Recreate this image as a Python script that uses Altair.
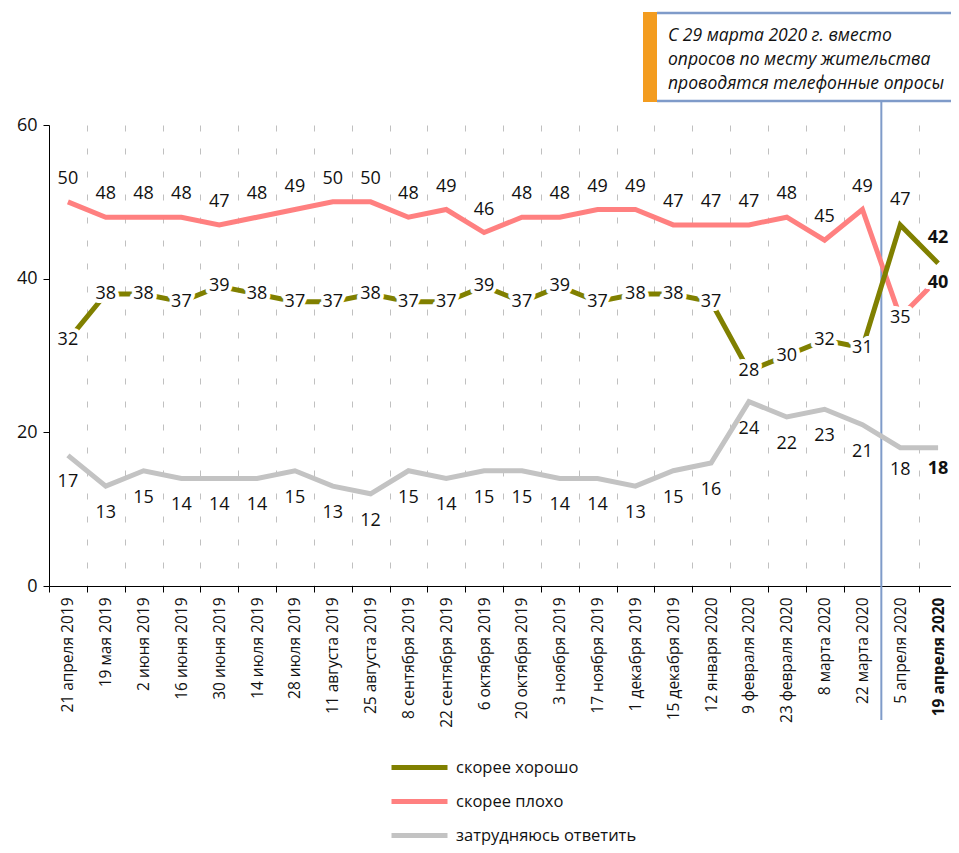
import altair as alt
import pandas as pd

dates = ["21 апреля 2019", "19 мая 2019", "2 июня 2019", "16 июня 2019", "30 июня 2019",
         "14 июля 2019", "28 июля 2019", "11 августа 2019", "25 августа 2019",
         "8 сентября 2019", "22 сентября 2019", "6 октября 2019", "20 октября 2019",
         "3 ноября 2019", "17 ноября 2019", "1 декабря 2019", "15 декабря 2019",
         "12 января 2020", "9 февраля 2020", "23 февраля 2020", "8 марта 2020",
         "22 марта 2020", "5 апреля 2020", "19 апреля 2020"]
good = [32, 38, 38, 37, 39, 38, 37, 37, 38, 37, 37, 39, 37, 39, 37, 38, 38, 37, 28, 30, 32, 31, 47, 42]
bad = [50, 48, 48, 48, 47, 48, 49, 50, 50, 48, 49, 46, 48, 48, 49, 49, 47, 47, 47, 48, 45, 49, 35, 40]
hard = [17, 13, 15, 14, 14, 14, 15, 13, 12, 15, 14, 15, 15, 14, 14, 13, 15, 16, 24, 22, 23, 21, 18, 18]
series_names = ["скорее хорошо", "скорее плохо", "затрудняюсь ответить"]
series_colors = ["#808000", "#ff8080", "#c3c3c3"]
divider_after = "22 марта 2020"
note_lines = ["С 29 марта 2020 г. вместо", "опросов по месту жительства", "проводятся телефонные опросы"]

FONT = "Open Sans"
rows = []
for name, vals in zip(series_names, [good, bad, hard]):
    for i, (d, v) in enumerate(zip(dates, vals)):
        rows.append({"date": d, "series": name, "value": v, "idx": i})
df = pd.DataFrame(rows)
last = len(dates) - 1

def make_x(bp=0.5):
    return alt.X(
        "date:N", sort=dates, bandPosition=bp,
        scale=alt.Scale(type="band", domain=dates, paddingInner=0, paddingOuter=0),
        axis=alt.Axis(
            title=None, tickBand="extent", grid=True, gridColor="#c0c0c0", gridDash=[6, 17],
            gridWidth=1, domainColor="#000", tickColor="#000", tickSize=6, labelAngle=270,
            labelFont=FONT, labelFontSize=15.5, labelColor="#111", labelPadding=5,
            labelFontWeight={"condition": {"test": "datum.value == '19 апреля 2020'", "value": "bold"},
                             "value": "normal"},
        ),
    )

y_enc = alt.Y(
    "value:Q", scale=alt.Scale(domain=[0, 60], nice=False),
    axis=alt.Axis(title=None, values=[0, 20, 40, 60], grid=False, domainColor="#000",
                  tickColor="#000", tickSize=6, labelFont=FONT, labelFontSize=18,
                  labelColor="#111", labelPadding=6),
)

color_enc = alt.Color(
    "series:N", scale=alt.Scale(domain=series_names, range=series_colors),
    legend=alt.Legend(title=None, orient="none", legendX=354, legendY=626,
                      symbolType="M-2,0L2,0", symbolSize=784, symbolStrokeWidth=5,
                      labelFont=FONT, labelFontSize=16.5, labelColor="#111", labelOffset=20,
                      labelLimit=400, rowPadding=7, padding=0),
)

base = alt.Chart(df)

divider = alt.Chart(pd.DataFrame({"date": [divider_after]})).mark_rule(
    color="#7f9bc9", strokeWidth=2
).encode(x=make_x(1), y=alt.value(-24), y2=alt.value(595))

lines = [
    base.transform_filter(alt.datum.series == name).mark_line(strokeWidth=5).encode(
        x=make_x(), y=y_enc, color=color_enc)
    for name in reversed(series_names)
]

def labels(cond, dy, bold=False, halo=False):
    layers = []
    ch = base.transform_filter(cond)
    enc = dict(x=make_x(), y=y_enc, text=alt.Text("value:Q"))
    if halo:
        layers.append(ch.mark_text(font=FONT, fontSize=18, dy=dy, fontWeight="bold" if bold else "normal",
                                   fill="white", stroke="white", strokeWidth=8,
                                   strokeJoin="round").encode(**enc))
    layers.append(ch.mark_text(font=FONT, fontSize=18, dy=dy, fontWeight="bold" if bold else "normal",
                               color="#111").encode(**enc))
    return layers

g, p, h = series_names
label_layers = []
label_layers += labels((alt.datum.series == g) & (alt.datum.idx < last - 1), 0, halo=True)
label_layers += labels((alt.datum.series == g) & (alt.datum.idx == last - 1), -25)
label_layers += labels((alt.datum.series == g) & (alt.datum.idx == last), -25, bold=True)
label_layers += labels((alt.datum.series == p) & (alt.datum.idx < last - 1), -23)
label_layers += labels((alt.datum.series == p) & (alt.datum.idx == last - 1), 1, halo=True)
label_layers += labels((alt.datum.series == p) & (alt.datum.idx == last), 4, bold=True, halo=True)
label_layers += labels((alt.datum.series == h) & (alt.datum.idx < last - 1), 27)
label_layers += labels((alt.datum.series == h) & (alt.datum.idx == last - 1), 22)
label_layers += labels((alt.datum.series == h) & (alt.datum.idx == last), 21, bold=True)

one = alt.Chart(pd.DataFrame({"a": [0]}))
note_box = one.mark_rect(color="#f39c1f").encode(
    x=alt.value(594), x2=alt.value(608), y=alt.value(-113), y2=alt.value(-23))
note_top = one.mark_rule(color="#7f9bc9", strokeWidth=2.5).encode(
    x=alt.value(608), x2=alt.value(912), y=alt.value(-112))
note_bottom = one.mark_rule(color="#7f9bc9", strokeWidth=2.5).encode(
    x=alt.value(608), x2=alt.value(912), y=alt.value(-24))
note_text = one.mark_text(align="left", baseline="alphabetic", font=FONT, fontSize=17.5,
                          fontStyle="italic", lineHeight=24, color="#111").encode(
    x=alt.value(619), y=alt.value(-84), text=alt.value(note_lines))

chart = alt.layer(
    divider, *lines, *label_layers, note_box, note_top, note_bottom, note_text
).properties(
    width=908, height=461,
    autosize=alt.AutoSizeParams(type="none"),
    padding={"left": 41, "top": 117, "right": -6, "bottom": 259},
    background="white",
).configure_view(stroke=None)

chart.save("out.html", embed_options={"renderer": "svg", "actions": False})
